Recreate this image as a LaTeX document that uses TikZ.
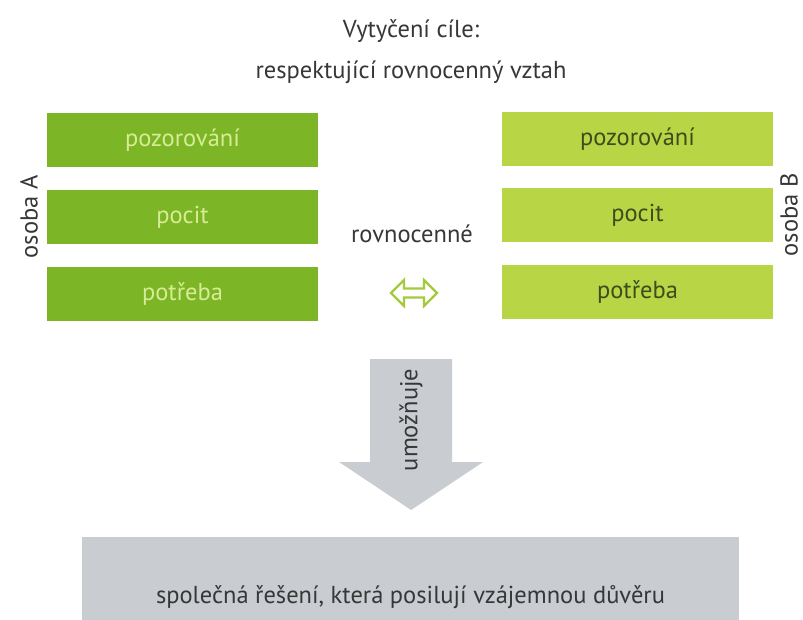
\documentclass[tikz,border=0pt]{standalone}
\usepackage{fontspec}
\setmainfont{PT Sans}
\usetikzlibrary{calc}
\definecolor{darkg}{RGB}{124,181,38}
\definecolor{darkgtext}{RGB}{216,236,150}
\definecolor{lightg}{RGB}{184,213,70}
\definecolor{lightgtext}{RGB}{58,78,28}
\definecolor{outlineg}{RGB}{164,202,60}
\definecolor{greyfill}{RGB}{201,204,209}
\definecolor{txt}{RGB}{55,55,55}
\tikzset{
  boxA/.style={fill=darkg, text=darkgtext, minimum width=271pt, minimum height=54pt, inner sep=0pt, font=\fontsize{24.5}{28}\selectfont},
  boxB/.style={fill=lightg, text=lightgtext, minimum width=271pt, minimum height=54pt, inner sep=0pt, font=\fontsize{24.5}{28}\selectfont},
  plain/.style={text=txt, inner sep=0pt, font=\fontsize{24.5}{28}\selectfont},
}
\begin{document}
\begin{tikzpicture}[x=1pt,y=1pt]
\useasboundingbox (0,0) rectangle (803,-620);
\fill[white] (0,0) rectangle (803,-620);
% titles
\node[plain] (t1) at (411,-31) {Vytyčení cíle:};
\node[plain] (t2) at (411,-72) {respektující rovnocenný vztah};
% person A
\node[boxA] (a1) at (182.5,-140) {pozorování};
\node[boxA] (a2) at (182.5,-217) {pocit};
\node[boxA] (a3) at (182.5,-294) {potřeba};
\node[plain, rotate=90] (la) at (29,-217) {osoba A};
% person B
\node[boxB] (b1) at (637.5,-139) {pozorování};
\node[boxB] (b2) at (637.5,-215) {pocit};
\node[boxB] (b3) at (637.5,-292) {potřeba};
\node[plain, rotate=90] (lb) at (789,-215) {osoba B};
% equal
\node[plain] (eq) at (412,-234) {rovnocenné};
\coordinate (dc) at (414,-293);
\draw[outlineg, line width=2.2pt, line join=miter]
  ($(dc)+(-23,0)$) -- ($(dc)+(-10,13)$) -- ($(dc)+(-10,4.5)$) -- ($(dc)+(10,4.5)$) -- ($(dc)+(10,13)$)
  -- ($(dc)+(23,0)$) -- ($(dc)+(10,-13)$) -- ($(dc)+(10,-4.5)$) -- ($(dc)+(-10,-4.5)$) -- ($(dc)+(-10,-13)$) -- cycle;
% bottom result
\node[fill=greyfill, minimum width=657pt, minimum height=83pt, inner sep=0pt] (res) at (410.5,-578.5) {};
\node[plain] (rest) at (410.5,-597) {společná řešení, která posilují vzájemnou důvěru};
% down arrow
\fill[greyfill] (370,-359) -- (452,-359) -- (452,-462) -- (483,-462) -- (411,-510) -- (339,-462) -- (370,-462) -- cycle;
\node[plain, rotate=90] (um) at (411,-420) {umožňuje};
\end{tikzpicture}
\end{document}
